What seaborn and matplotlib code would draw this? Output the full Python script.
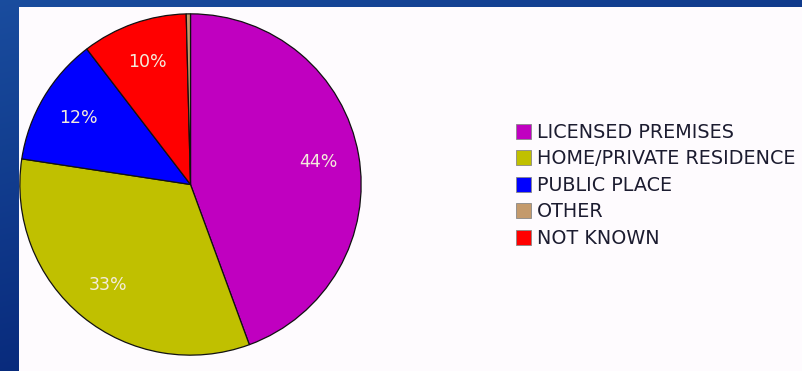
import numpy as np
import matplotlib
matplotlib.use("Agg")
import matplotlib.pyplot as plt
from matplotlib.patches import Rectangle
import seaborn as sns

# Share of incidents by location (legend order)
categories = ["LICENSED PREMISES", "HOME/PRIVATE RESIDENCE", "PUBLIC PLACE", "OTHER", "NOT KNOWN"]
shares = [44.4, 33.0, 12.2, 0.4, 10.0]
colors = ["#c000c0", "#c0c000", "#0000ff", "#c49a6c", "#ff0000"]
# clockwise order of the wedges starting at 12 o'clock
wedge_order = [0, 1, 2, 4, 3]

sns.set_theme(style="white")
plt.rcParams["font.family"] = ["DejaVu Sans"]

W, H = 803, 371
fig = plt.figure(figsize=(W / 100, H / 100), dpi=100)

# blue gradient frame behind the white panel
bg = fig.add_axes([0, 0, 1, 1], zorder=0)
yy, xx = np.mgrid[0:1:200j, 0:1:400j]
t = np.clip(0.65 * yy + 0.35 * xx, 0, 1)
c0 = np.array([0.10, 0.30, 0.62])
c1 = np.array([0.00, 0.10, 0.42])
img = c0[None, None, :] * (1 - t[..., None]) + c1[None, None, :] * t[..., None]
bg.imshow(img, extent=[0, 1, 0, 1], aspect="auto", origin="upper")
bg.add_patch(Rectangle((19 / W, 0), 1, 1 - 7 / H, transform=bg.transAxes,
                       facecolor="#fefbfe", edgecolor="none"))
bg.set_xlim(0, 1)
bg.set_ylim(0, 1)
bg.axis("off")

# pie
ax = fig.add_axes([19 / W, 15 / H, 343 / W, 343 / H], zorder=1)
ax.set_facecolor("none")
vals = [shares[i] for i in wedge_order]
cols = [colors[i] for i in wedge_order]


def pct_label(p):
    return f"{p:.0f}%" if p >= 1 else ""


wedges, _, autotexts = ax.pie(
    vals, colors=cols, startangle=90, counterclock=False,
    autopct=pct_label, pctdistance=0.76, radius=1.0,
    wedgeprops=dict(edgecolor="#111111", linewidth=0.9),
    textprops=dict(color="#f4ecdc", fontsize=12.5),
)
ax.set_xlim(-1.005, 1.005)
ax.set_ylim(-1.005, 1.005)
ax.set_aspect("equal")
ax.axis("off")

# legend in category order
handles = [Rectangle((0, 0), 1, 1, facecolor=c, edgecolor="#888888", linewidth=0.6)
           for c in colors]
fig.legend(handles, categories, loc="upper left",
           bbox_to_anchor=(516 / W, 1 - 123 / H),
           frameon=False, fontsize=13.8, handlelength=0.8, handleheight=0.8,
           handletextpad=0.3, labelspacing=0.39, borderpad=0, borderaxespad=0,
           labelcolor="#1c1c30")

fig.savefig("out.png", dpi=100)
